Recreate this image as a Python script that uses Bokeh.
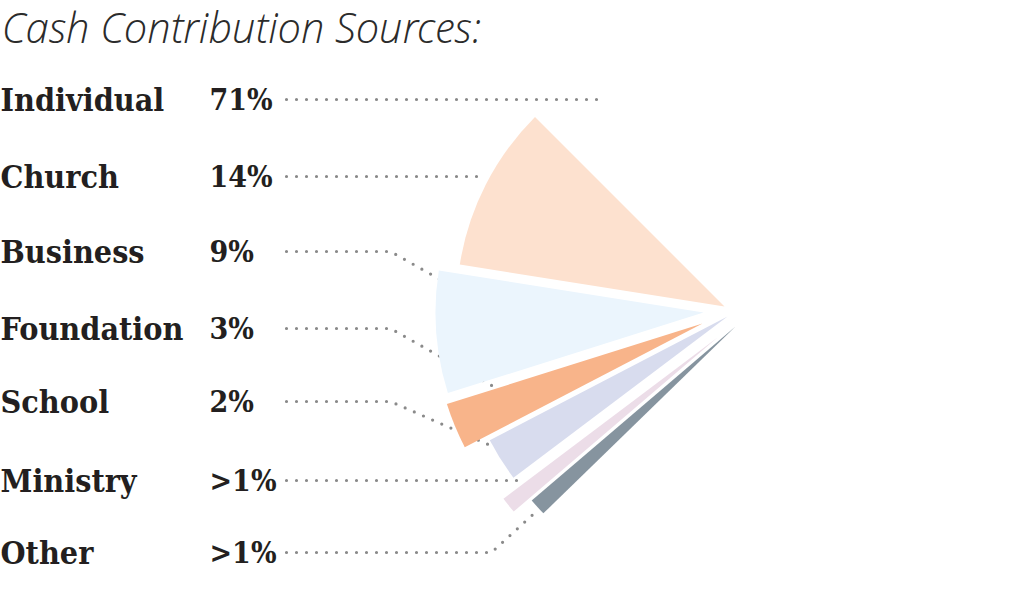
import numpy as np
from bokeh.plotting import figure
from bokeh.models import Range1d, ColumnDataSource
from bokeh.core.properties import value
from bokeh.embed import file_html
from bokeh.resources import INLINE

# ---- data ----
categories = ["Individual", "Church", "Business", "Foundation", "School", "Ministry", "Other"]
pct_labels = ["71%", "14%", "9%", "3%", "2%", ">1%", ">1%"]
shares = [71, 14, 9, 3, 2, 1, 1]
# arc span of each slice as drawn in the fan (degrees)
fan_span_deg = [270.8, 36, 26.5, 10, 9.5, 3.5, 3.7]
colors = ["#ffffff", "#fde1cf", "#ebf5fd", "#f8b48a", "#d8dcee", "#ecdde8", "#86949f"]

# ---- layout (screen pixel helpers) ----
W, H = 1008, 584
def Y(py):
    return 592 - py

p = figure(width=W, height=H, x_range=Range1d(0, W), y_range=Range1d(592 - H, 592),
           output_backend="svg", toolbar_location=None, min_border=0)
p.axis.visible = False
p.grid.visible = False
p.outline_line_color = None
p.background_fill_color = "white"
p.border_fill_color = "white"

# fan geometry: start at 135deg, proceed anticlockwise
ends = 135 + np.cumsum(fan_span_deg[1:])
starts = np.concatenate([[135], ends[:-1]])
# slice tip positions (exploded fan), screen px
tips = [(735, 310), (724, 306), (703, 312), (702, 323), (727, 316), (717, 337), (735, 326)]
R = 268

# Individual slice (white) behind everything
p.wedge(x=[tips[0][0]], y=[Y(tips[0][1])], radius=R,
        start_angle=[float(ends[-1])], end_angle=[135.0 + 360], start_angle_units="deg",
        end_angle_units="deg", fill_color=colors[0], line_color=None)

# leader lines
rows = [99, 176, 251, 328, 401, 480, 552]
leaders = [
    [(286, 99), (598, 99)],
    [(286, 176), (481, 176)],
    [(286, 251), (390, 251), (445, 282)],
    [(286, 328), (390, 328), (500, 390)],
    [(286, 401), (390, 401), (490, 445)],
    [(286, 480), (520, 480)],
    [(286, 552), (491, 552), (538, 509)],
]
p.multi_line(xs=[[a for a, b in l] for l in leaders], ys=[[Y(b) for a, b in l] for l in leaders],
             line_color="#8a8a8a", line_width=3.2, line_dash="0 10", line_cap="round")

src = ColumnDataSource(dict(
    x=[t[0] for t in tips[1:]], y=[Y(t[1]) for t in tips[1:]],
    s=[float(v) for v in starts], e=[float(v) for v in ends], c=colors[1:],
    name=categories[1:], v=shares[1:]))
p.wedge(x="x", y="y", radius=R, start_angle="s", end_angle="e", start_angle_units="deg",
        end_angle_units="deg", fill_color="c", line_color=None, source=src)

# title
p.text(x=[1], y=[Y(26)], text=["Cash Contribution Sources:"],
       text_font=value("Open Sans Light"), text_font_style="italic", text_font_size="42px",
       text_color="#2b2b2b", text_baseline="middle")

# category + percent labels
p.text(x=[0] * 7, y=[Y(r) for r in rows], text=categories,
       text_font=value("DejaVu Serif Condensed"), text_font_style="bold", text_font_size="32px",
       text_color="#231f20", text_baseline="middle")
p.text(x=[209] * 7, y=[Y(r) for r in rows], text=pct_labels,
       text_font=value("DejaVu Serif Condensed"), text_font_style="bold", text_font_size="30px",
       text_color="#231f20", text_baseline="middle")

open("out.html", "w").write(file_html(p, INLINE))
